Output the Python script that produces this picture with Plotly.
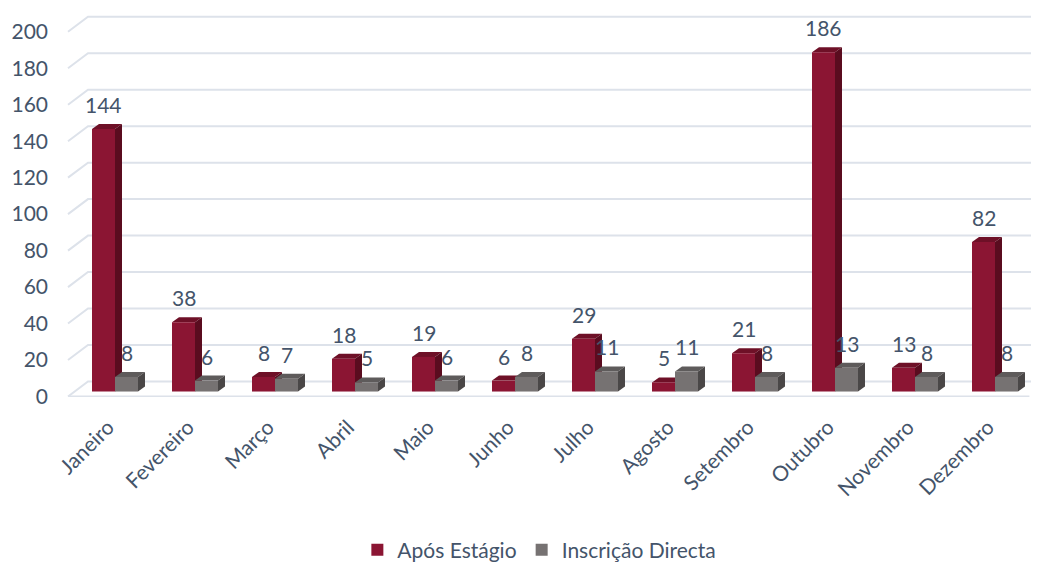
import plotly.graph_objects as go

# ---- data ----
months = ["Janeiro", "Fevereiro", "Março", "Abril", "Maio", "Junho", "Julho",
          "Agosto", "Setembro", "Outubro", "Novembro", "Dezembro"]
apos_estagio = [144, 38, 8, 18, 19, 6, 29, 5, 21, 186, 13, 82]
inscricao_directa = [8, 6, 7, 5, 6, 8, 11, 11, 8, 13, 8, 8]
y_ticks = [0, 20, 40, 60, 80, 100, 120, 140, 160, 180, 200]
series_names = ["Após Estágio", "Inscrição Directa"]

# ---- styles ----
FONT = "Lato"
TXT = "#44546A"
RED, RED_SIDE, RED_TOP = "#8B1533", "#5A0C1F", "#6E1027"
GRY, GRY_SIDE, GRY_TOP = "#767272", "#4A4747", "#5E5B5B"
GRID = "#DDE2EA"

BARGAP = 0.425
BW = (1 - BARGAP) / 2          # width of one bar in category units
DX = 0.0875                    # bar depth (x, category units)
DY = 2.74                      # bar depth (y, value units)
FL_F = 2.74                    # floor front offset (value units)
FL_B = 5.5                     # back wall offset (value units)
X0_FRONT, X0_BACK = -0.5875, -0.3375
X_RANGE = [-0.6, 11.45]
Y_RANGE = [-3, 207]

idx = list(range(len(months)))

fig = go.Figure()
fig.add_trace(go.Bar(x=idx, y=apos_estagio, name=series_names[0],
                     marker=dict(color=RED, line=dict(width=0))))
fig.add_trace(go.Bar(x=idx, y=inscricao_directa, name=series_names[1],
                     marker=dict(color=GRY, line=dict(width=0))))

shapes = []
# back-wall gridlines with perspective diagonals
for v in y_ticks:
    shapes.append(dict(type="path", xref="x", yref="y", layer="below",
                       path=f"M {X0_FRONT},{v - FL_F} L {X0_BACK},{v + FL_B} L {X_RANGE[1]},{v + FL_B}",
                       line=dict(color=GRID, width=2)))
# floor front edge
shapes.append(dict(type="line", xref="x", yref="y", layer="below",
                   x0=X0_FRONT, x1=X_RANGE[1] - 0.02, y0=-FL_F, y1=-FL_F,
                   line=dict(color=GRID, width=2)))

# 3D faces (top and side) of each bar
for i in idx:
    for vals, sgn, side_c, top_c in ((apos_estagio, -1, RED_SIDE, RED_TOP),
                                     (inscricao_directa, 1, GRY_SIDE, GRY_TOP)):
        v = vals[i]
        left = i - BW if sgn < 0 else i
        right = i if sgn < 0 else i + BW
        shapes.append(dict(type="path", xref="x", yref="y", layer="below",
                           path=f"M {left},{v} L {right},{v} L {right + DX},{v + DY} L {left + DX},{v + DY} Z",
                           fillcolor=top_c, line=dict(width=0)))
        shapes.append(dict(type="path", xref="x", yref="y", layer="below",
                           path=f"M {right},{v} L {right + DX},{v + DY} L {right + DX},{DY} L {right},0 Z",
                           fillcolor=side_c, line=dict(width=0)))

annotations = []
for i in idx:
    for vals, off in ((apos_estagio, -BW / 2), (inscricao_directa, BW / 2)):
        annotations.append(dict(x=i + off, y=vals[i], xref="x", yref="y",
                                text=str(vals[i]), showarrow=False,
                                yanchor="bottom", yshift=10,
                                font=dict(family=FONT, size=21, color=TXT)))

fig.update_layout(
    width=1039, height=563,
    margin=dict(l=67, r=8, t=14, b=165.5, autoexpand=False),
    paper_bgcolor="white", plot_bgcolor="white",
    barmode="group", bargap=BARGAP, bargroupgap=0,
    shapes=shapes, annotations=annotations,
    font=dict(family=FONT, size=21, color=TXT),
    showlegend=True,
    legend=dict(orientation="h", x=0.49, xanchor="center", y=-0.4, yanchor="middle",
                font=dict(family=FONT, size=21, color=TXT), itemwidth=30,
                tracegroupgap=0),
    xaxis=dict(range=X_RANGE, tickmode="array", tickvals=idx, ticktext=months,
               tickangle=-45, showgrid=False, zeroline=False, showline=False,
               ticks="", automargin=False, ticklabelstandoff=13, ticklabelshift=-7,
               tickfont=dict(family=FONT, size=21, color=TXT)),
    yaxis=dict(range=Y_RANGE, tickmode="array",
               tickvals=[v - FL_F for v in y_ticks], ticktext=[str(v) for v in y_ticks],
               showgrid=False, zeroline=False, showline=False, ticks="",
               automargin=False, ticklabelstandoff=18,
               tickfont=dict(family=FONT, size=21, color=TXT)),
)

fig.write_html("out.html", config={"displayModeBar": False},
               post_script="document.body.style.margin='0';document.body.style.overflow='hidden';")
